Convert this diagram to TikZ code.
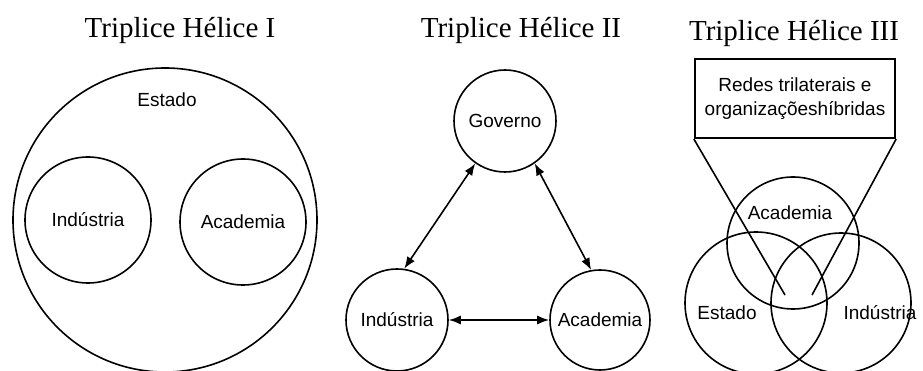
\documentclass[tikz,border=0pt]{standalone}
\usepackage{fontspec}
\setmainfont{Liberation Serif}
\setsansfont{Liberation Sans}
\usepackage{tikz}
\usetikzlibrary{arrows.meta,positioning}
\tikzset{%
  % classes
  sphere/.style={draw, circle, line width=1.6pt, inner sep=0pt, font=\labelfont},
  title/.style={font=\titlefont, anchor=base, inner sep=0pt},
  lbl/.style={font=\labelfont, inner sep=0pt},
  netbox/.style={draw, line width=2.2pt, align=center, font=\labelfont,
    minimum width=200pt, minimum height=79pt, inner sep=2pt},
  % edge styles
  link/.style={{Latex[length=12pt,width=9pt]}-{Latex[length=12pt,width=9pt]}, line width=1.6pt},
  plain/.style={line width=1.6pt},
}
\newcommand{\titlefont}{\fontsize{29}{34}\selectfont}
\newcommand{\labelfont}{\sffamily\fontsize{19}{24}\selectfont}

\begin{document}
\begin{tikzpicture}[x=1pt, y=-1pt]
  \useasboundingbox (0,0) rectangle (923,371);

  % Triplice Helice I
  \node[title] (title1) at (180,38) {Triplice Hélice I};
  \node[sphere, minimum size=304pt] (estado1) at (165,220) {};
  \node[lbl] (estado1lbl) at (167,100) {Estado};
  \node[sphere, minimum size=126pt] (ind1) at (88,220) {Indústria};
  \node[sphere, minimum size=126pt] (aca1) at (243,222) {Academia};

  % Triplice Helice II
  \node[title] (title2) at (521,38) {Triplice Hélice II};
  \node[sphere, minimum size=102pt] (gov2) at (505,121) {Governo};
  \node[sphere, minimum size=102pt] (ind2) at (397,320) {Indústria};
  \node[sphere, minimum size=100pt] (aca2) at (600,320) {Academia};

  \draw[link] (gov2.235) -- (ind2.82);
  \draw[link] (gov2.305) -- (aca2.100);
  \draw[link] (ind2) -- (aca2);

  % Triplice Helice III
  \node[title] (title3) at (794,41) {Triplice Hélice III};
  \node[netbox] (redes) at (795,98.5) {Redes trilaterais e\\organizaçõeshíbridas};
  \node[sphere, minimum size=132pt] (aca3) at (793,243) {};
  \node[sphere, minimum size=142pt] (est3) at (756,303) {};
  \node[sphere, minimum size=140pt] (ind3) at (841,303) {};
  \node[lbl] (aca3lbl) at (790,213) {Academia};
  \node[lbl] (est3lbl) at (727,313) {Estado};
  \node[lbl] (ind3lbl) at (880,313) {Indústria};

  \coordinate (tipl) at (785,295);
  \coordinate (tipr) at (812,295);
  \draw[plain] (redes.south west) -- (tipl);
  \draw[plain] (redes.south east) -- (tipr);

\end{tikzpicture}
\end{document}
